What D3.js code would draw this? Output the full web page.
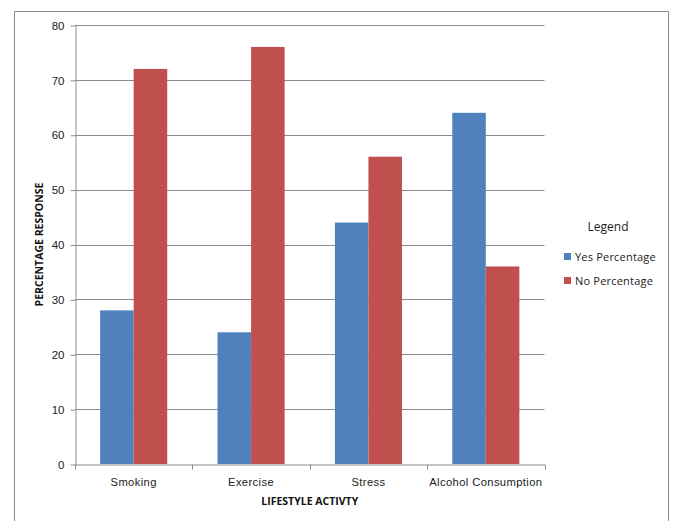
<!DOCTYPE html>
<html>
<head>
<meta charset="utf-8">
<script src="https://cdn.jsdelivr.net/npm/d3@7"></script>
<style>
  html, body { margin: 0; padding: 0; background: #fff; }
  svg { display: block; font-family: "Open Sans", "Liberation Sans", sans-serif; }
</style>
</head>
<body>
<svg id="chart" width="674" height="521"></svg>
<script>
// Survey responses per lifestyle activity
const categories = ["Smoking", "Exercise", "Stress", "Alcohol Consumption"];
const yesPercentage = [28, 24, 44, 64];
const noPercentage = [72, 76, 56, 36];
const seriesNames = ["Yes Percentage", "No Percentage"];
const yTicks = [0, 10, 20, 30, 40, 50, 60, 70, 80];

const colors = ["#4F81BD", "#C0504D"];
const series = [yesPercentage, noPercentage];

const svg = d3.select("#chart");

// Outer chart frame
svg.append("rect")
  .attr("x", 14.5).attr("y", 11.5)
  .attr("width", 654).attr("height", 520)
  .attr("fill", "none").attr("stroke", "#8c8c8c").attr("stroke-width", 1);

const plot = { left: 75, right: 544.5, top: 25, bottom: 464 };

const x = d3.scaleBand()
  .domain(categories)
  .range([plot.left, plot.right])
  .paddingInner(0).paddingOuter(0);

// bar width: band = 2 bars + 1.5 bar-width gap
const barW = x.bandwidth() / 3.5;
const gapHalf = barW * 0.75;

const y = d3.scaleLinear().domain([0, 80]).range([plot.bottom, plot.top]);

// Horizontal gridlines
svg.append("g")
  .selectAll("line")
  .data(yTicks.filter(d => d > 0))
  .join("line")
  .attr("x1", plot.left).attr("x2", plot.right)
  .attr("y1", d => Math.round(y(d)) + 0.5).attr("y2", d => Math.round(y(d)) + 0.5)
  .attr("stroke", "#8c8c8c").attr("stroke-width", 1);

// Bars
categories.forEach((c, i) => {
  series.forEach((s, k) => {
    svg.append("rect")
      .attr("x", x(c) + gapHalf + k * barW)
      .attr("y", y(s[i]))
      .attr("width", barW)
      .attr("height", y(0) - y(s[i]))
      .attr("fill", colors[k]);
  });
});

// Y axis
const yAxis = d3.axisLeft(y).tickValues(yTicks).tickSize(5).tickSizeOuter(0).tickPadding(6);
const gy = svg.append("g")
  .attr("transform", `translate(${plot.left + 0.5},0.5)`)
  .call(yAxis);
gy.select(".domain").attr("stroke", "#8c8c8c");
gy.selectAll(".tick line").attr("stroke", "#8c8c8c");
gy.selectAll(".tick text")
  .attr("fill", "#222").attr("font-size", 11.5)
  .attr("font-family", "Liberation Sans, Arial, sans-serif");

// X axis
const xAxis = d3.axisBottom(x).tickSize(0).tickSizeOuter(0).tickPadding(14);
const gx = svg.append("g")
  .attr("transform", `translate(0,${plot.bottom + 0.5})`)
  .call(xAxis);
gx.select(".domain").attr("stroke", "#8c8c8c");
gx.selectAll(".tick text")
  .attr("fill", "#222").attr("font-size", 11.2)
  .attr("letter-spacing", "0.4px");

// Category boundary tick marks
const bounds = categories.map(c => x(c)).concat([plot.right]);
gx.selectAll(".bound")
  .data(bounds)
  .join("line")
  .attr("class", "bound")
  .attr("x1", d => Math.round(d) + 0.5).attr("x2", d => Math.round(d) + 0.5)
  .attr("y1", 0).attr("y2", 5)
  .attr("stroke", "#8c8c8c");

// Axis titles
svg.append("text")
  .attr("x", (plot.left + plot.right) / 2).attr("y", 505)
  .attr("text-anchor", "middle")
  .attr("font-size", 10.5).attr("font-weight", "bold").attr("fill", "#111")
  .text("LIFESTYLE  ACTIVTY");

svg.append("text")
  .attr("transform", `translate(43,${(plot.top + plot.bottom) / 2}) rotate(-90)`)
  .attr("text-anchor", "middle")
  .attr("font-size", 10.5).attr("font-weight", "bold").attr("fill", "#111")
  .text("PERCENTAGE  RESPONSE");

// Legend
const legend = svg.append("g");
legend.append("text")
  .attr("x", 608).attr("y", 231)
  .attr("text-anchor", "middle")
  .attr("font-size", 12).attr("fill", "#222")
  .text("Legend");

seriesNames.forEach((name, k) => {
  const ly = 256 + k * 24;
  legend.append("rect")
    .attr("x", 564).attr("y", ly - 3)
    .attr("width", 7).attr("height", 7)
    .attr("fill", colors[k]);
  legend.append("text")
    .attr("x", 575).attr("y", ly + 4.5)
    .attr("font-size", 11).attr("letter-spacing", "0.2px").attr("fill", "#222")
    .text(name);
});
</script>
</body>
</html>
